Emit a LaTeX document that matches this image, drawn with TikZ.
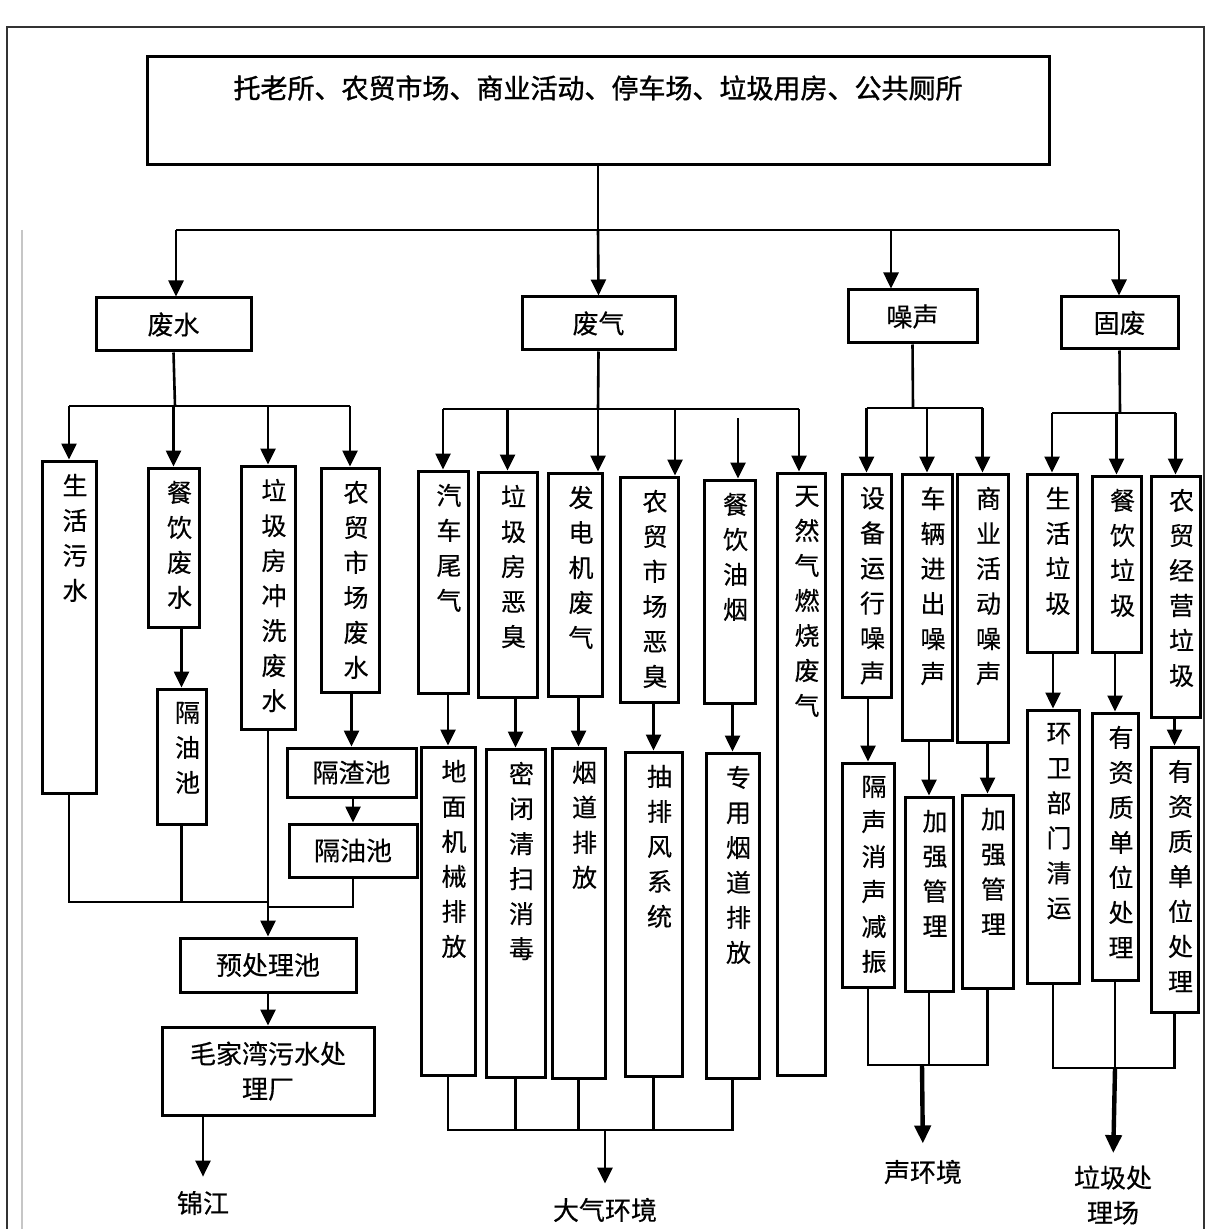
\documentclass[tikz,border=0pt]{standalone}
\usepackage{fontspec}
\newfontfamily\cjk[FakeBold=0.4]{Noto Sans CJK SC}
\newfontfamily\cjkb[FakeBold=1.2]{Noto Sans CJK SC}
\usetikzlibrary{arrows.meta,fit}
\tikzset{
 x=0.5pt,y=-0.5pt,
 bx/.style={draw,line width=1.5pt,inner sep=0pt},
 vt/.style={font=\cjk\fontsize{12.5}{17.5}\selectfont,align=center,inner sep=0pt,anchor=north},
 ht/.style={font=\cjk\fontsize{13}{17.5}\selectfont,align=center,inner sep=0pt},
 ln/.style={line width=1.3pt},
 arr/.style={line width=1.3pt,-{Triangle[width=7.5pt,length=8pt]}},
 tarr/.style={line width=2.2pt,-{Triangle[width=8pt,length=9pt]}},
}
\newcommand\myvb[6]{\node[bx,fit={(#2,#3) (#4,#5)}] (#1) {};\node[vt] (#1t) at ([xshift=3pt,yshift=-7pt]#1.north) {#6};}
\newcommand\myhb[6]{\node[bx,fit={(#2,#3) (#4,#5)}] (#1) {};\node[ht] (#1t) at (#1.center) {#6};}
\begin{document}
\begin{tikzpicture}
\useasboundingbox (0,0) rectangle (1210,1229);
% frame
\draw[black!80,line width=1.1pt] (7,1229) -- (7,27) -- (1204,27) -- (1204,1229);
\draw[gray!45,line width=0.7pt] (22,230) -- (22,1229);
% top
\node[bx,fit={(147,57) (1049,165)}] (top) {};
\node[font=\cjkb\fontsize{13.5}{16}\selectfont,inner sep=0pt] (topt) at (598,88) {托老所、农贸市场、商业活动、停车场、垃圾用房、公共厕所};
% level 2
\myhb{fs}{96}{298}{251}{351}{废水}
\myhb{fq}{522}{297}{675}{350}{废气}
\myhb{zs}{848}{290}{977}{343}{噪声}
\myhb{gf}{1061}{297}{1178}{349}{固废}
\coordinate (jt) at (598,230);
\coordinate (jtl) at (176,230);
\coordinate (jtr) at (1119,230);
\coordinate (zsA) at (891,230);
\draw[ln] (top.south) -- (jt);
\draw[ln] (jtl) -- (jtr);
\draw[arr] (jtl) -- (jtl |- fs.north);
\draw[arr] (jt) -- (fq.north);
\draw[arr] (zsA) -- (zsA |- zs.north);
\draw[arr] (jtr) -- (jtr |- gf.north);
% ---------- waste water
\myvb{shw}{42}{461}{96}{793}{生\\活\\污\\水}
\myvb{cyf}{148}{468}{199}{627}{餐\\饮\\废\\水}
\myvb{ljf}{241}{466}{295}{729}{垃\\圾\\房\\冲\\洗\\废\\水}
\myvb{nmf}{321}{468}{379}{692}{农\\贸\\市\\场\\废\\水}
\myvb{gyv}{157}{689}{206}{824}{隔\\油\\池}
\myhb{gzc}{287}{748}{416}{797}{隔渣池}
\myhb{gyh}{289}{824}{417}{877}{隔油池}
\myhb{ycl}{180}{938}{356}{992}{预处理池}
\myhb{mjw}{162}{1027}{374}{1115}{毛家湾污水处\\理厂}
\node[ht] (jj) at (203,1203) {锦江};
\coordinate (jw) at (175,406);
\draw[ln] (fs.south) -- (jw);
\draw[ln] (shw.north |- jw) -- (nmf.north |- jw);
\foreach \n in {shw,cyf,ljf,nmf} \draw[arr] (\n.north |- jw) -- (\n.north);
\draw[arr] (cyf.south -| gyv.north) -- (gyv.north);
\draw[arr] (nmf.south -| gzc.north) -- (gzc.north);
\draw[arr] (gzc.south -| gyh.north) -- (gyh.north);
\coordinate (mw) at (268,902);
\coordinate (mw2) at (268,907);
\draw[ln] (shw.south) |- (mw);
\draw[ln] (gyv.south) -- (gyv.south |- mw);
\draw[ln] (gyh.south) |- (mw2);
\draw[arr] (ljf.south) -- (ycl.north);
\draw[arr] (ycl.south) -- (mjw.north);
\draw[arr,shorten >=7pt] (mjw.south -| jj) -- (jj.north);
% ---------- waste gas
\myvb{qcw}{418}{471}{468}{693}{汽\\车\\尾\\气}
\myvb{ljc}{478}{472}{537}{697}{垃\\圾\\房\\恶\\臭}
\myvb{fdj}{548}{473}{602}{696}{发\\电\\机\\废\\气}
\myvb{nmc}{620}{477}{678}{702}{农\\贸\\市\\场\\恶\\臭}
\myvb{cyy}{704}{480}{755}{703}{餐\\饮\\油\\烟}
\myvb{trq}{777}{473}{825}{1075}{天\\然\\气\\燃\\烧\\废\\气}
\myvb{dmj}{421}{747}{475}{1075}{地\\面\\机\\械\\排\\放}
\myvb{mbq}{486}{749}{545}{1077}{密\\闭\\清\\扫\\消\\毒}
\myvb{ydp}{552}{748}{605}{1078}{烟\\道\\排\\放}
\myvb{cpf}{625}{752}{682}{1076}{抽\\排\\风\\系\\统}
\myvb{zyy}{706}{753}{759}{1078}{专\\用\\烟\\道\\排\\放}
\coordinate (jqq) at (598,409);
\coordinate (jqr) at (799,409);
\coordinate (nmcA) at (675,409);
\coordinate (cyyA) at (738,418);
\draw[ln] (fq.south) -- (jqq);
\draw[ln] (qcw.north |- jqq) -- (jqr);
\draw[arr] (qcw.north |- jqq) -- (qcw.north);
\draw[arr] (ljc.north |- jqq) -- (ljc.north);
\draw[arr] (jqq) -- (jqq |- fdj.north);
\draw[arr] (nmcA) -- (nmcA |- nmc.north);
\draw[arr] (cyyA) -- (cyyA |- cyy.north);
\draw[arr] (jqr) -- (jqr |- trq.north);
\foreach \a/\b in {qcw/dmj,ljc/mbq,fdj/ydp,nmc/cpf,cyy/zyy} \draw[arr] (\a.south -| \b.north) -- (\b.north);
\coordinate (mq) at (605,1130);
\draw[ln] (dmj.south) |- (zyy.south |- mq) -- (zyy.south);
\foreach \b in {mbq,ydp,cpf} \draw[ln] (\b.south) -- (\b.south |- mq);
\node[ht] (dqhj) at (605,1210) {大气环境};
\draw[arr,shorten >=7pt] (mq) -- (dqhj.north);
% ---------- noise
\myvb{sbz}{842}{474}{891}{697}{设\\备\\运\\行\\噪\\声}
\myvb{clz}{902}{474}{952}{740}{车\\辆\\进\\出\\噪\\声}
\myvb{syz}{957}{474}{1008}{742}{商\\业\\活\\动\\噪\\声}
\myvb{gsx}{842}{763}{894}{987}{隔\\声\\消\\声\\减\\振}
\myvb{jqa}{905}{797}{953}{991}{加\\强\\管\\理}
\myvb{jqb}{962}{795}{1013}{988}{加\\强\\管\\理}
\coordinate (jz) at (913,408);
\draw[ln] (zs.south) -- (jz);
\draw[ln] (sbz.north |- jz) -- (syz.north |- jz);
\foreach \n in {sbz,clz,syz} \draw[arr] (\n.north |- jz) -- (\n.north);
\foreach \a/\b in {sbz/gsx,clz/jqa,syz/jqb} \draw[arr] (\a.south -| \b.north) -- (\b.north);
\coordinate (mz) at (922,1065);
\draw[ln] (gsx.south) |- (jqb.south |- mz) -- (jqb.south);
\draw[ln] (jqa.south) -- (jqa.south |- mz);
\node[ht] (shj) at (923,1172) {声环境};
\draw[tarr,shorten >=8pt] (mz) -- (shj.north);
% ---------- solid waste
\myvb{shl}{1027}{474}{1077}{652}{生\\活\\垃\\圾}
\myvb{cyl}{1092}{476}{1141}{652}{餐\\饮\\垃\\圾}
\myvb{nml}{1151}{476}{1200}{717}{农\\贸\\经\\营\\垃\\圾}
\myvb{hwb}{1027}{710}{1079}{983}{环\\卫\\部\\门\\清\\运}
\myvb{yza}{1092}{713}{1138}{980}{有\\资\\质\\单\\位\\处\\理}
\myvb{yzb}{1151}{747}{1198}{1012}{有\\资\\质\\单\\位\\处\\理}
\coordinate (jg) at (1120,413);
\draw[ln] (gf.south) -- (jg);
\draw[ln] (shl.north |- jg) -- (nml.north |- jg);
\foreach \n in {shl,cyl,nml} \draw[arr] (\n.north |- jg) -- (\n.north);
\foreach \a/\b in {shl/hwb,cyl/yza,nml/yzb} \draw[arr] (\a.south -| \b.north) -- (\b.north);
\coordinate (mg) at (1115,1068);
\draw[ln] (hwb.south) |- (yzb.south |- mg) -- (yzb.south);
\draw[ln] (yza.south) -- (yza.south |- mg);
\node[ht] (ljcl) at (1113,1195) {垃圾处\\理场};
\draw[tarr,shorten >=6pt] (mg) -- (ljcl.north);
\end{tikzpicture}
\end{document}
